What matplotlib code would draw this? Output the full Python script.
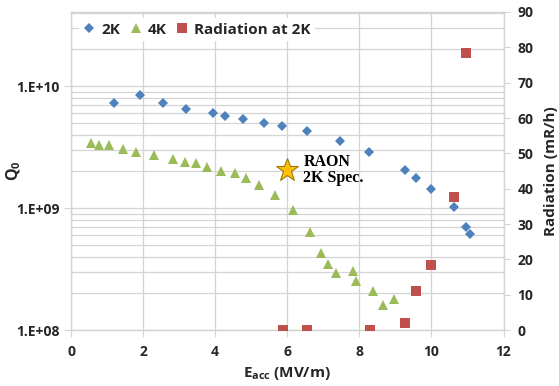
import matplotlib.pyplot as plt
from matplotlib.ticker import FixedLocator, NullFormatter

# 2K test, Q0 vs Eacc
e_2k = [1.20, 1.92, 2.56, 3.18, 3.95, 4.28, 4.77, 5.36, 5.86, 6.55, 7.47, 8.28,
        9.26, 9.56, 9.99, 10.63, 10.96, 11.06]
q_2k = [7.3e9, 8.5e9, 7.2e9, 6.45e9, 5.97e9, 5.7e9, 5.33e9, 4.95e9, 4.67e9, 4.28e9,
        3.56e9, 2.88e9, 2.06e9, 1.77e9, 1.42e9, 1.02e9, 6.98e8, 6.09e8]

# 4K test
e_4k = [0.55, 0.79, 1.06, 1.45, 1.81, 2.29, 2.82, 3.15, 3.46, 3.77, 4.17, 4.54,
        4.86, 5.21, 5.67, 6.16, 6.64, 6.94, 7.12, 7.36, 7.82, 7.92, 8.38, 8.66, 8.95]
q_4k = [3.39e9, 3.30e9, 3.26e9, 3.03e9, 2.89e9, 2.73e9, 2.51e9, 2.40e9, 2.32e9,
        2.18e9, 2.02e9, 1.92e9, 1.77e9, 1.54e9, 1.27e9, 9.57e8, 6.32e8, 4.25e8,
        3.47e8, 2.92e8, 3.06e8, 2.51e8, 2.08e8, 1.61e8, 1.80e8]

# radiation at 2K (mR/h)
e_rad = [5.88, 6.55, 8.29, 9.27, 9.57, 10.0, 10.63, 10.95]
rad = [0, 0, 0, 1.9, 11.0, 18.3, 37.6, 78.3]

# spec point
spec_e = 6.0
spec_q = 2.05e9

blue = '#4F81BD'
green = '#9BBB59'
red = '#C0504D'
grid_c = '#D4D4D4'
txt_c = '#262626'

plt.rcParams['font.family'] = ['Open Sans', 'DejaVu Sans']
plt.rcParams['font.weight'] = 'bold'
plt.rcParams['axes.labelweight'] = 'bold'
plt.rcParams['mathtext.fontset'] = 'custom'
plt.rcParams['mathtext.rm'] = 'Open Sans:bold'
plt.rcParams['mathtext.default'] = 'rm'

fig = plt.figure(figsize=(5.59, 3.86), dpi=100)
ax = fig.add_axes([71 / 559, 1 - 330 / 386, (503.5 - 71) / 559, 318 / 386])
ax2 = ax.twinx()

ax.set_yscale('log')
ax.set_xlim(0, 12)
ax.set_ylim(1e8, 10 ** (8 + 318 / 122))
ax2.set_ylim(0, 90)

ax.set_xticks(range(0, 13, 2))
ax.set_yticks([1e8, 1e9, 1e10])
ax.set_yticklabels(['1.E+08', '1.E+09', '1.E+10'])
minors = [m * 10 ** d for d in (8, 9, 10) for m in range(2, 10)]
ax.yaxis.set_minor_locator(FixedLocator(minors))
ax.yaxis.set_minor_formatter(NullFormatter())
ax2.set_yticks(range(0, 91, 10))

ax.grid(True, which='both', axis='y', color=grid_c, lw=0.9)
ax.grid(True, which='major', axis='x', color=grid_c, lw=0.9)
ax.set_axisbelow(True)

for a in (ax, ax2):
    for s in a.spines.values():
        s.set_color(grid_c)
        s.set_linewidth(0.9)
ax.tick_params(axis='both', which='major', direction='out', length=5, color=grid_c,
               labelsize=10, labelcolor=txt_c, pad=3)
ax.tick_params(axis='x', pad=6)
ax.tick_params(axis='y', which='minor', length=0)
ax2.tick_params(axis='y', direction='out', length=4, color=grid_c, labelsize=10,
                labelcolor=txt_c, pad=6)

h1, = ax.plot(e_2k, q_2k, 'D', color=blue, ms=5, mew=0, label='2K', zorder=3)
h2, = ax.plot(e_4k, q_4k, '^', color=green, ms=7.5, mew=0, label='4K', zorder=3)
h3, = ax2.plot(e_rad, rad, 's', color=red, ms=7.5, mew=0, label='Radiation at 2K', zorder=3)

ax.plot([spec_e], [spec_q], '*', ms=17, color='#FFC000', mec='#9C7A14', mew=0.8, zorder=4)
ax.text(6.45, spec_q, 'RAON\n2K Spec.', family=['Liberation Serif'], weight='bold',
        fontsize=11.5, va='center', ha='left', color='black', linespacing=1.0)

ax.set_xlabel(r'E$_{acc}$ (MV/m)', fontsize=11, color=txt_c)
ax.xaxis.set_label_coords(0.5, -0.11)
ax.set_ylabel(r'Q$_0$', fontsize=11.5, color=txt_c)
ax.yaxis.set_label_coords(-0.11, 0.5)
ax2.set_ylabel('Radiation (mR/h)', fontsize=11, color=txt_c, labelpad=8)

leg = ax2.legend(handles=[h1, h2, h3], loc='upper left', bbox_to_anchor=(0.0, 1.005),
                 ncol=3, fontsize=11, frameon=True, fancybox=False, framealpha=1,
                 edgecolor='none', facecolor='white', handlelength=0.8,
                 handletextpad=0.4, columnspacing=0.6, borderpad=0.3)
for t in leg.get_texts():
    t.set_color(txt_c)

fig.savefig('out.png', dpi=100)
